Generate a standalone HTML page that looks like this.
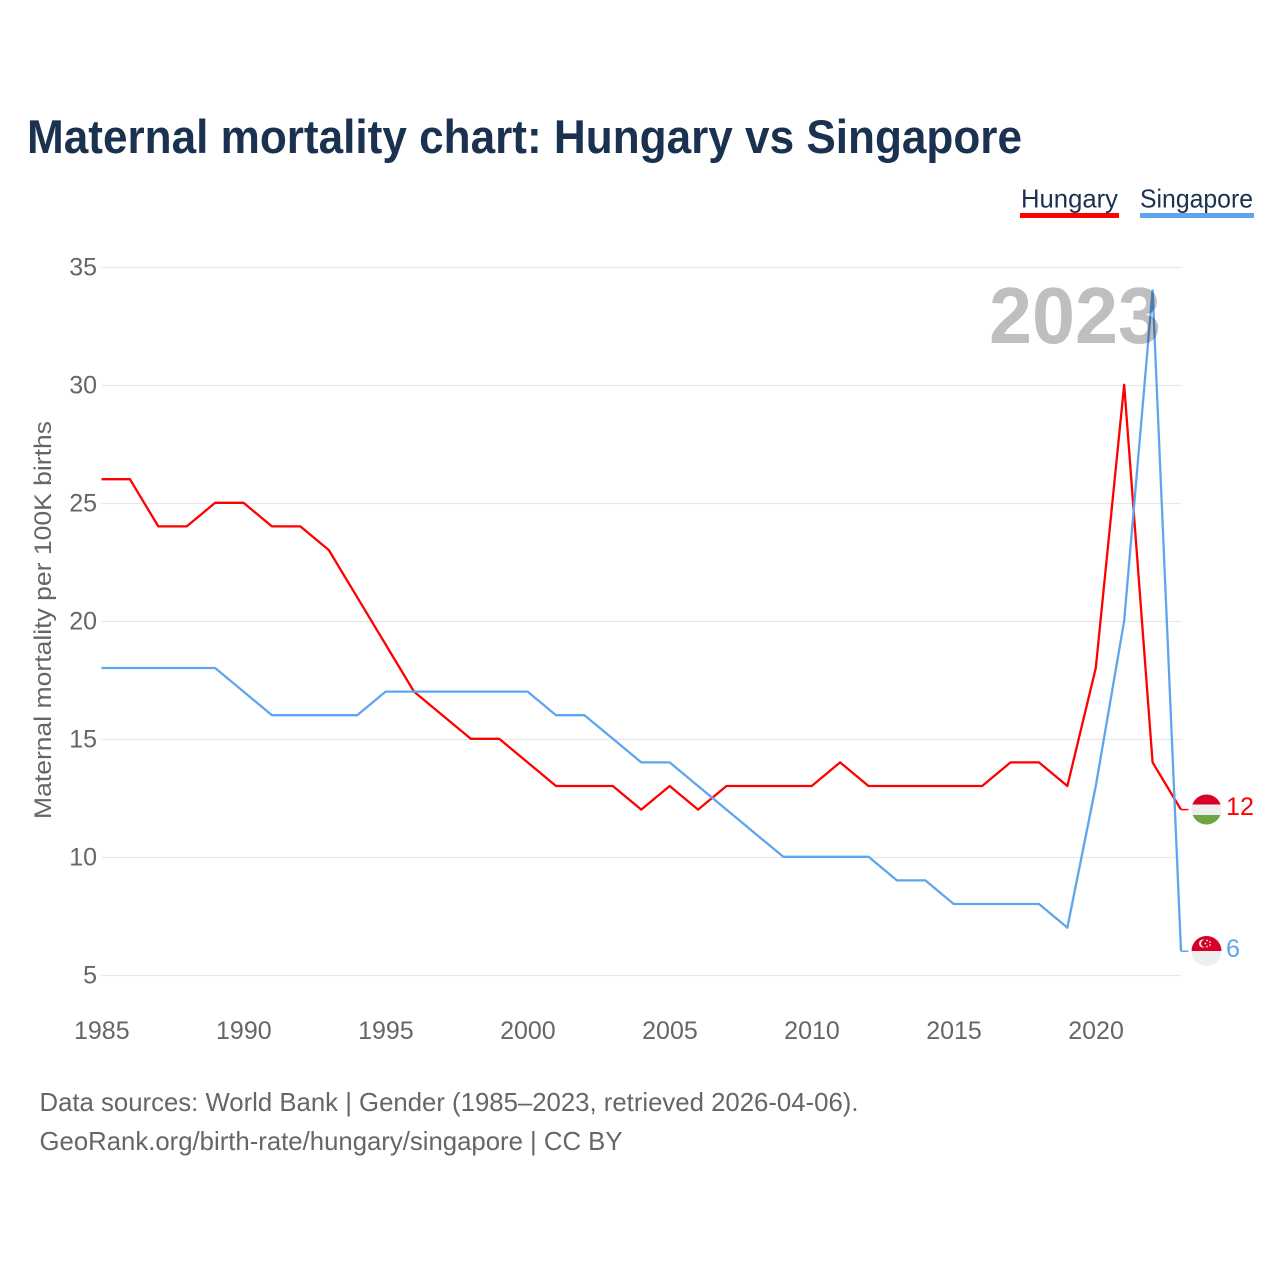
<!DOCTYPE html>
<html lang="en">
<head>
<meta charset="utf-8">
<title>Maternal mortality chart: Hungary vs Singapore</title>
<style>
html,body{margin:0;padding:0;background:#fff;width:1280px;height:1280px;overflow:hidden}
svg{display:block}
text{font-family:"Liberation Sans",sans-serif}
</style>
</head>
<body>
<svg id="chart" xmlns="http://www.w3.org/2000/svg" width="1280" height="1280" viewBox="0 0 1280 1280">
  <defs>
    <clipPath id="flag-clip-hu"><circle cx="1206.5" cy="809.5" r="15"/></clipPath>
    <clipPath id="flag-clip-sg"><circle cx="1206.5" cy="951" r="15"/></clipPath>
  </defs>
  <text x="27" y="153" font-size="47" font-weight="700" fill="#1a3150" textLength="995" lengthAdjust="spacingAndGlyphs">Maternal mortality chart: Hungary vs Singapore</text>

  <g>
    <text x="1021" y="207.5" font-size="26" fill="#1a3150" textLength="97" lengthAdjust="spacingAndGlyphs">Hungary</text>
    <rect x="1020" y="213" width="99" height="5" fill="#ff0000"/>
  </g>
  <g>
    <text x="1140" y="207.5" font-size="26" fill="#1a3150" textLength="113" lengthAdjust="spacingAndGlyphs">Singapore</text>
    <rect x="1140" y="213" width="114" height="5" fill="#5fa5ee"/>
  </g>

  <g id="grid"></g>
  <g id="yticks"></g>
  <g id="xticks"></g>
  <text transform="translate(51,819) rotate(-90)" x="0" y="0" font-size="24.5" fill="#666666" textLength="398" lengthAdjust="spacingAndGlyphs">Maternal mortality per 100K births</text>

  <g id="series"></g>

  <text x="989" y="343" font-size="80" font-weight="700" fill="#000000" fill-opacity="0.25" textLength="172" lengthAdjust="spacingAndGlyphs">2023</text>

  <g clip-path="url(#flag-clip-hu)">
    <rect x="1191" y="794" width="31" height="10.5" fill="#d80027"/>
    <rect x="1191" y="804.5" width="31" height="10.5" fill="#eeeeee"/>
    <rect x="1191" y="815" width="31" height="10.5" fill="#6da544"/>
  </g>
  <g clip-path="url(#flag-clip-sg)">
    <rect x="1191" y="936" width="31" height="15" fill="#d80027"/>
    <rect x="1191" y="951" width="31" height="15" fill="#eeeeee"/>
    <circle cx="1203" cy="943.5" r="4" fill="#eeeeee"/>
    <circle cx="1204.6" cy="943.5" r="3.6" fill="#d80027"/>
    <circle cx="1207" cy="940.5" r="0.9" fill="#eeeeee"/>
    <circle cx="1210" cy="942" r="0.9" fill="#eeeeee"/>
    <circle cx="1210" cy="945" r="0.9" fill="#eeeeee"/>
    <circle cx="1207" cy="946.5" r="0.9" fill="#eeeeee"/>
    <circle cx="1205.5" cy="943.5" r="0.9" fill="#eeeeee"/>
  </g>
  <text id="end-hu" x="1226" y="815" font-size="25" fill="#ff0000" textLength="28" lengthAdjust="spacingAndGlyphs"></text>
  <text id="end-sg" x="1226" y="957" font-size="25" fill="#5fa5ee" textLength="14" lengthAdjust="spacingAndGlyphs"></text>

  <text x="39.5" y="1111" font-size="26" fill="#666666" textLength="819" lengthAdjust="spacingAndGlyphs">Data sources: World Bank | Gender (1985–2023, retrieved 2026-04-06).</text>
  <text x="39.5" y="1150" font-size="26" fill="#666666" textLength="583" lengthAdjust="spacingAndGlyphs">GeoRank.org/birth-rate/hungary/singapore | CC BY</text>
</svg>
<script>
const years = [1985,1986,1987,1988,1989,1990,1991,1992,1993,1994,1995,1996,1997,1998,1999,2000,2001,2002,2003,2004,2005,2006,2007,2008,2009,2010,2011,2012,2013,2014,2015,2016,2017,2018,2019,2020,2021,2022,2023];
const hungaryValues = [26,26,24,24,25,25,24,24,23,21,19,17,16,15,15,14,13,13,13,12,13,12,13,13,13,13,14,13,13,13,13,13,14,14,13,18,30,14,12];
const singaporeValues = [18,18,18,18,18,17,16,16,16,16,17,17,17,17,17,17,16,16,15,14,14,13,12,11,10,10,10,10,9,9,8,8,8,8,7,13,20,34,6];
const yTickValues = [5,10,15,20,25,30,35];
const xTickValues = [1985,1990,1995,2000,2005,2010,2015,2020];

const NS = 'http://www.w3.org/2000/svg';
function xScale(year) { return 101.5 + (year - 1985) * (1181 - 101.5) / 38; }
function yScale(v) { return 975.5 - (v - 5) * (975.5 - 267.5) / 30; }
function make(tag, attrs, parent) {
  const el = document.createElementNS(NS, tag);
  for (const k in attrs) el.setAttribute(k, attrs[k]);
  parent.appendChild(el);
  return el;
}
const gridG = document.getElementById('grid');
const yG = document.getElementById('yticks');
const xG = document.getElementById('xticks');
const seriesG = document.getElementById('series');

yTickValues.forEach(function (v) {
  const line = make('line', {x1: 101, x2: 1181, y1: yScale(v), y2: yScale(v), stroke: '#e8e8e8', 'stroke-width': 1.2}, gridG);
  
  
  const label = make('text', {x: 97, y: yScale(v) + 8, 'text-anchor': 'end', 'font-size': 25, fill: '#666666'}, yG);
  
  
  label.textContent = String(v);
});

xTickValues.forEach(function (yr) {
  const label = make('text', {x: xScale(yr) + 0.3, y: 1039, 'text-anchor': 'middle', 'font-size': 25, fill: '#666666'}, xG);
  
  
  label.textContent = String(yr);
});

function drawSeries(values, color, name) {
  const pts = values.map(function (v, i) { return xScale(years[i]).toFixed(2) + ',' + (yScale(v) - 0.7).toFixed(2); });
  const line = make('polyline', {points: pts.join(' '), fill: 'none', stroke: color, 'stroke-width': 2.3, 'stroke-linejoin': 'round'}, seriesG);
  
  
  const lastValue = values[values.length - 1];
  const connector = make('line', {x1: xScale(years[years.length - 1]), x2: 1188.5, y1: yScale(lastValue) - 0.7, y2: yScale(lastValue) - 0.7, stroke: color, 'stroke-width': 1.5}, seriesG);
  
  
}
drawSeries(hungaryValues, '#ff0000', 'line-hungary');
drawSeries(singaporeValues, '#5fa5ee', 'line-singapore');

document.getElementById('end-hu').textContent = String(hungaryValues[hungaryValues.length - 1]);
document.getElementById('end-sg').textContent = String(singaporeValues[singaporeValues.length - 1]);
</script>
</body>
</html>
